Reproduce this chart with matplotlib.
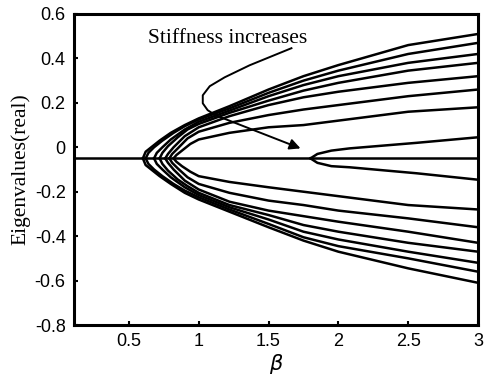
import matplotlib
matplotlib.use("Agg")
import matplotlib.pyplot as plt

# common tail abscissa for the early branches
x_tail = [1.0, 1.22, 1.5, 1.75, 2.0, 2.5, 3.0]

# branch heads (x, upper y, lower y) for the seven early pairs
head_x = [
    [0.60, 0.62, 0.66, 0.72, 0.80, 0.90],
    [0.62, 0.64, 0.68, 0.74, 0.82, 0.90],
    [0.68, 0.70, 0.74, 0.80, 0.90],
    [0.72, 0.74, 0.78, 0.85, 0.92],
    [0.76, 0.78, 0.82, 0.90],
    [0.79, 0.81, 0.85, 0.92],
    [0.82, 0.84, 0.88, 0.94],
]
head_up = [
    [-0.05, -0.02, 0.0, 0.03, 0.065, 0.10],
    [-0.05, -0.025, 0.0, 0.03, 0.065, 0.095],
    [-0.05, -0.025, 0.0, 0.035, 0.08],
    [-0.05, -0.025, 0.005, 0.045, 0.08],
    [-0.05, -0.03, 0.0, 0.05],
    [-0.05, -0.03, -0.005, 0.04],
    [-0.05, -0.035, -0.015, 0.015],
]
head_lo = [
    [-0.05, -0.08, -0.10, -0.13, -0.165, -0.205],
    [-0.05, -0.075, -0.10, -0.13, -0.165, -0.195],
    [-0.05, -0.075, -0.10, -0.135, -0.18],
    [-0.05, -0.075, -0.105, -0.145, -0.175],
    [-0.05, -0.07, -0.10, -0.15],
    [-0.05, -0.07, -0.095, -0.135],
    [-0.05, -0.065, -0.085, -0.11],
]

tail_up = [
    [0.13, 0.185, 0.26, 0.32, 0.37, 0.46, 0.51],
    [0.125, 0.175, 0.245, 0.30, 0.345, 0.42, 0.47],
    [0.115, 0.165, 0.23, 0.28, 0.32, 0.38, 0.42],
    [0.105, 0.155, 0.21, 0.255, 0.29, 0.345, 0.38],
    [0.09, 0.14, 0.19, 0.225, 0.25, 0.29, 0.32],
    [0.07, 0.11, 0.145, 0.17, 0.19, 0.23, 0.26],
    [0.035, 0.065, 0.09, 0.10, 0.12, 0.16, 0.18],
]
tail_lo = [
    [-0.235, -0.29, -0.36, -0.42, -0.47, -0.545, -0.61],
    [-0.225, -0.28, -0.345, -0.405, -0.445, -0.50, -0.56],
    [-0.215, -0.27, -0.325, -0.38, -0.415, -0.47, -0.52],
    [-0.205, -0.26, -0.305, -0.35, -0.38, -0.43, -0.47],
    [-0.19, -0.245, -0.285, -0.31, -0.335, -0.38, -0.43],
    [-0.165, -0.205, -0.24, -0.26, -0.285, -0.32, -0.36],
    [-0.13, -0.156, -0.18, -0.20, -0.22, -0.26, -0.28],
]

# late branch (highest stiffness)
late_x = [1.80, 1.85, 1.95, 2.08, 2.56, 3.0]
late_up = [-0.05, -0.03, -0.015, -0.005, 0.02, 0.045]
late_lo = [-0.05, -0.07, -0.085, -0.09, -0.117, -0.146]

base_y = -0.05
xticks = [0.5, 1, 1.5, 2, 2.5, 3]
xtick_labels = ["0.5", "1", "1.5", "2", "2.5", "3"]
yticks = [-0.8, -0.6, -0.4, -0.2, 0, 0.2, 0.4, 0.6]
ytick_labels = ["-0.8", "-0.6", "-0.4", "-0.2", "0", "0.2", "0.4", "0.6"]

# annotation curl
curl_x = [1.664, 1.364, 1.186, 1.079, 1.029, 1.029, 1.064, 1.121]
curl_y = [0.446, 0.369, 0.315, 0.275, 0.234, 0.198, 0.167, 0.144]

fig = plt.figure(figsize=(4.85, 3.78), dpi=100)
ax = fig.add_axes([0.1526, 0.1402, 0.8330, 0.8228])

lw = 1.8
ax.axhline(base_y, color="black", lw=lw)
for i in range(len(head_x)):
    ax.plot(head_x[i] + x_tail, head_up[i] + tail_up[i], color="black", lw=lw, solid_joinstyle="round")
    ax.plot(head_x[i] + x_tail, head_lo[i] + tail_lo[i], color="black", lw=lw, solid_joinstyle="round")
ax.plot(late_x, late_up, color="black", lw=lw)
ax.plot(late_x, late_lo, color="black", lw=lw)

ax.plot(curl_x, curl_y, color="black", lw=1.4)
ax.annotate("", xy=(1.729, -0.005), xytext=(curl_x[-1], curl_y[-1]),
            arrowprops=dict(arrowstyle="-|>", color="black", lw=1.4, mutation_scale=16,
                            shrinkA=0, shrinkB=0))
ax.text(0.636, 0.468, "Stiffness increases", fontsize=15.5, family="Liberation Serif",
        va="baseline", ha="left")

ax.set_xlim(0.107, 3.0)
ax.set_ylim(-0.8, 0.6)
ax.set_xticks(xticks)
ax.set_xticklabels(xtick_labels)
ax.set_yticks(yticks)
ax.set_yticklabels(ytick_labels)
ax.tick_params(direction="in", length=3, width=1.5, labelsize=13, pad=6)
for lab in ax.get_xticklabels() + ax.get_yticklabels():
    lab.set_family("Liberation Sans")
for s in ax.spines.values():
    s.set_linewidth(2.2)

ax.set_ylabel("Eigenvalues(real)", fontsize=15.5, family="Liberation Serif", labelpad=3)
ax.set_xlabel(r"$\beta$", fontsize=15, labelpad=1)

fig.savefig("out.png", dpi=100)
